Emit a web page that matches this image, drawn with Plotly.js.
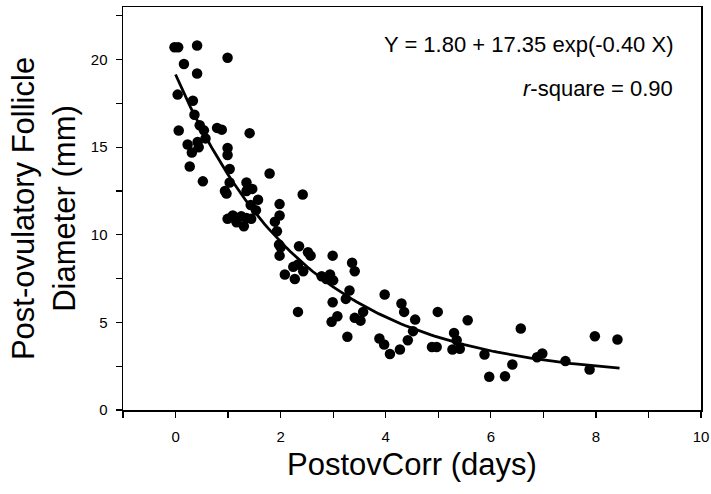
<!DOCTYPE html>
<html>
<head>
<meta charset="utf-8">
<script src="https://cdn.plot.ly/plotly-3.0.1.min.js"></script>
<style>html,body{margin:0;padding:0;background:#fff;}#chart{width:711px;height:494px;}</style>
</head>
<body>
<div id="chart"></div>
<script>
// Observed data: days since ovulation vs post-ovulatory follicle diameter (mm)
const dayValues = [
  -0.02, 0.05, 0.41, 0.99, 0.16, 0.41, 0.04, 0.33, 0.36, 0.46,
  0.54, 0.06, 0.79, 0.88, 1.41, 0.23, 0.42, 0.44, 0.57, 0.31,
  0.99, 0.99, 0.27, 0.52, 1.03, 1.79, 1.03, 0.94, 0.97, 1.35,
  1.35, 1.46, 1.57, 1.43, 1.53, 1.98, 1.98, 1.89, 2.42, 1.93,
  0.99, 1.09, 1.16, 1.25, 1.30, 1.35, 1.44,
  1.97, 2.00, 1.98, 2.35, 2.52, 2.57, 2.99, 3.36, 3.41, 2.24,
  2.33, 2.43, 2.08, 2.27, 2.78, 2.94, 2.87, 3.00, 3.31, 3.24,
  2.99, 3.98, 2.33, 3.08, 2.97, 3.57, 3.41, 3.52, 3.27, 3.88,
  3.97, 4.30, 4.35, 4.56, 4.52, 4.42, 4.27, 4.08, 4.99, 4.88,
  4.97, 5.30, 5.35, 5.27, 5.41, 5.56, 5.88, 5.97, 6.27, 6.41,
  6.57, 6.88, 6.98, 7.42, 7.88, 7.98, 8.41
];
const diameterValues = [
  20.7, 20.7, 20.8, 20.1, 19.75, 19.2, 18.0, 17.65, 16.85, 16.25,
  15.96, 15.95, 16.1, 16.0, 15.8, 15.15, 15.3, 15.0, 15.5, 14.7,
  14.95, 14.55, 13.9, 13.05, 13.75, 13.5, 12.98, 12.5, 12.35, 12.98,
  12.5, 12.62, 12.0, 11.7, 11.4, 11.75, 11.1, 10.75, 12.3, 10.2,
  10.91, 11.10, 10.71, 11.06, 10.49, 10.96, 10.91,
  9.44, 9.29, 8.81, 9.35, 9.0, 8.81, 8.81, 8.4, 7.92, 8.17,
  8.3, 7.92, 7.73, 7.48, 7.63, 7.73, 7.48, 7.4, 6.82, 6.34,
  6.15, 6.59, 5.6, 5.35, 5.03, 5.6, 5.26, 5.1, 4.18, 4.08,
  3.74, 6.08, 5.6, 5.16, 4.5, 3.98, 3.45, 3.2, 5.6, 3.6,
  3.6, 4.4, 3.98, 3.45, 3.49, 5.12, 3.17, 1.9, 1.93, 2.6,
  4.65, 3.01, 3.22, 2.79, 2.31, 4.21, 4.02
];

// Fitted model shown on the chart: Y = a + b exp(c X)
const fitA = 1.80, fitB = 17.35, fitC = -0.40;
const fitXStart = 0, fitXEnd = 8.45, fitSteps = 120;
const fitX = [], fitY = [];
for (let i = 0; i <= fitSteps; i++) {
  const x = fitXStart + (fitXEnd - fitXStart) * i / fitSteps;
  fitX.push(x);
  fitY.push(fitA + fitB * Math.exp(fitC * x));
}

const xTickVals = [0, 2, 4, 6, 8, 10];
const yTickVals = [0, 5, 10, 15, 20];
const equationText = 'Y = 1.80 + 17.35 exp(-0.40 X)';
const rsqText = '<i>r</i>-square = 0.90';

const FONT = 'Liberation Sans, Arial, Helvetica, sans-serif';

const traces = [
  {
    x: dayValues, y: diameterValues, type: 'scatter', mode: 'markers',
    marker: {color: '#000', size: 10.5, line: {width: 0}},
    hoverinfo: 'x+y', showlegend: false
  },
  {
    x: fitX, y: fitY, type: 'scatter', mode: 'lines',
    line: {color: '#000', width: 2.8},
    hoverinfo: 'skip', showlegend: false
  }
];

const layout = {
  width: 711, height: 494,
  margin: {l: 123, r: 10, t: 7, b: 84},
  paper_bgcolor: '#fff', plot_bgcolor: '#fff',
  font: {family: FONT, color: '#000', size: 15},
  showlegend: false,
  xaxis: {
    range: [-1, 10], tickmode: 'array', tickvals: xTickVals,
    ticks: 'outside', ticklen: 6, tickwidth: 1.3, tickcolor: '#000',
    ticklabelstandoff: 6,
    minor: {dtick: 1, tick0: -1, ticks: 'outside', ticklen: 6, tickwidth: 1.3, tickcolor: '#000', showgrid: false},
    showline: true, linecolor: '#000', linewidth: 1.5, mirror: true,
    showgrid: false, zeroline: false,
    tickfont: {family: FONT, size: 15, color: '#000'},
    title: {text: 'PostovCorr (days)', font: {family: FONT, size: 31, color: '#000'}, standoff: 10}
  },
  yaxis: {
    range: [0, 23], tickmode: 'array', tickvals: yTickVals,
    ticks: 'outside', ticklen: 6, tickwidth: 1.3, tickcolor: '#000',
    ticklabelstandoff: 5,
    minor: {dtick: 2.5, tick0: 0, ticks: 'outside', ticklen: 6, tickwidth: 1.3, tickcolor: '#000', showgrid: false},
    showline: true, linecolor: '#000', linewidth: 1.5, mirror: true,
    showgrid: false, zeroline: false,
    tickfont: {family: FONT, size: 15, color: '#000'},
    title: {text: 'Post-ovulatory Follicle<br>Diameter (mm)', font: {family: FONT, size: 31, color: '#000'}, standoff: 6}
  },
  annotations: [
    {xref: 'paper', yref: 'paper', x: 0.955, y: 0.906, xanchor: 'right', yanchor: 'middle',
     text: equationText, showarrow: false, font: {family: FONT, size: 22, color: '#000'}},
    {xref: 'paper', yref: 'paper', x: 0.955, y: 0.799, xanchor: 'right', yanchor: 'middle',
     text: rsqText, showarrow: false, font: {family: FONT, size: 22, color: '#000'}}
  ]
};

Plotly.newPlot('chart', traces, layout, {displayModeBar: false, staticPlot: true});
</script>
</body>
</html>
